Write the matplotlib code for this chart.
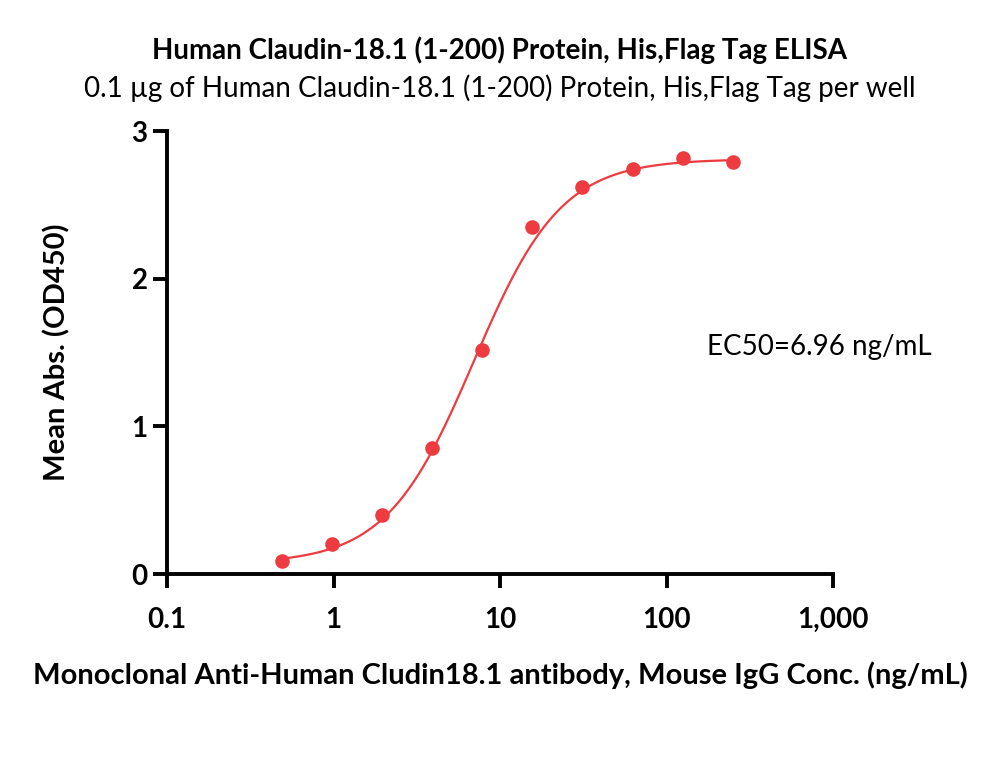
import numpy as np
import matplotlib
matplotlib.use("Agg")
import matplotlib.pyplot as plt
from matplotlib.ticker import FixedLocator, NullLocator

plt.rcParams['font.family'] = ['Lato', 'DejaVu Sans']

# data
conc = [0.488, 0.977, 1.95, 3.9, 7.8, 15.6, 31.25, 62.5, 125, 250]
od450 = [0.09, 0.20, 0.40, 0.85, 1.52, 2.35, 2.62, 2.74, 2.82, 2.79]

# 4PL fit parameters (bottom, top, EC50, hill)
bottom, top, ec50, hill = 0.07, 2.81, 6.96, 1.65

xticks = [0.1, 1, 10, 100, 1000]
xticklabels = ["0.1", "1", "10", "100", "1,000"]
yticks = [0, 1, 2, 3]

red = "#EE3B40"

fig = plt.figure(figsize=(10, 7.63), dpi=100)
ax = fig.add_axes([0.167, 0.2477, 0.666, 0.5806])

xs = np.logspace(np.log10(conc[0]), np.log10(conc[-1]), 300)
fit = bottom + (top - bottom) / (1 + (ec50 / xs) ** hill)
ax.plot(xs, fit, color=red, lw=1.6)
ax.plot(conc, od450, "o", color=red, ms=10.5, mec="none")

ax.set_xscale("log")
ax.set_xlim(0.1, 1000)
ax.set_ylim(0, 3)
ax.xaxis.set_major_locator(FixedLocator(xticks))
ax.xaxis.set_minor_locator(NullLocator())
ax.set_xticklabels(xticklabels)
ax.set_yticks(yticks)

for s in ["top", "right"]:
    ax.spines[s].set_visible(False)
for s in ["left", "bottom"]:
    ax.spines[s].set_linewidth(2.8)
ax.tick_params(width=2.8, length=10, labelsize=20)
for lab in ax.get_xticklabels() + ax.get_yticklabels():
    lab.set_fontweight("bold")
ax.tick_params(axis="x", pad=14)
ax.tick_params(axis="y", pad=4)

ax.set_xlabel("Monoclonal Anti-Human Cludin18.1 antibody, Mouse IgG Conc. (ng/mL)",
              fontsize=21, fontweight="bold", labelpad=20)
ax.set_ylabel("Mean Abs. (OD450)", fontsize=21, fontweight="bold", labelpad=44)

ax.text(175, 1.54, "EC50=6.96 ng/mL", fontsize=20, va="center", ha="left")

fig.text(0.5, 1 - 50/763, "Human Claudin-18.1 (1-200) Protein, His,Flag Tag ELISA",
         ha="center", va="center", fontsize=20, fontweight="bold")
fig.text(0.5, 1 - 88/763, "0.1 \u00b5g of Human Claudin-18.1 (1-200) Protein, His,Flag Tag per well",
         ha="center", va="center", fontsize=20)

fig.savefig("out.png", dpi=100)
